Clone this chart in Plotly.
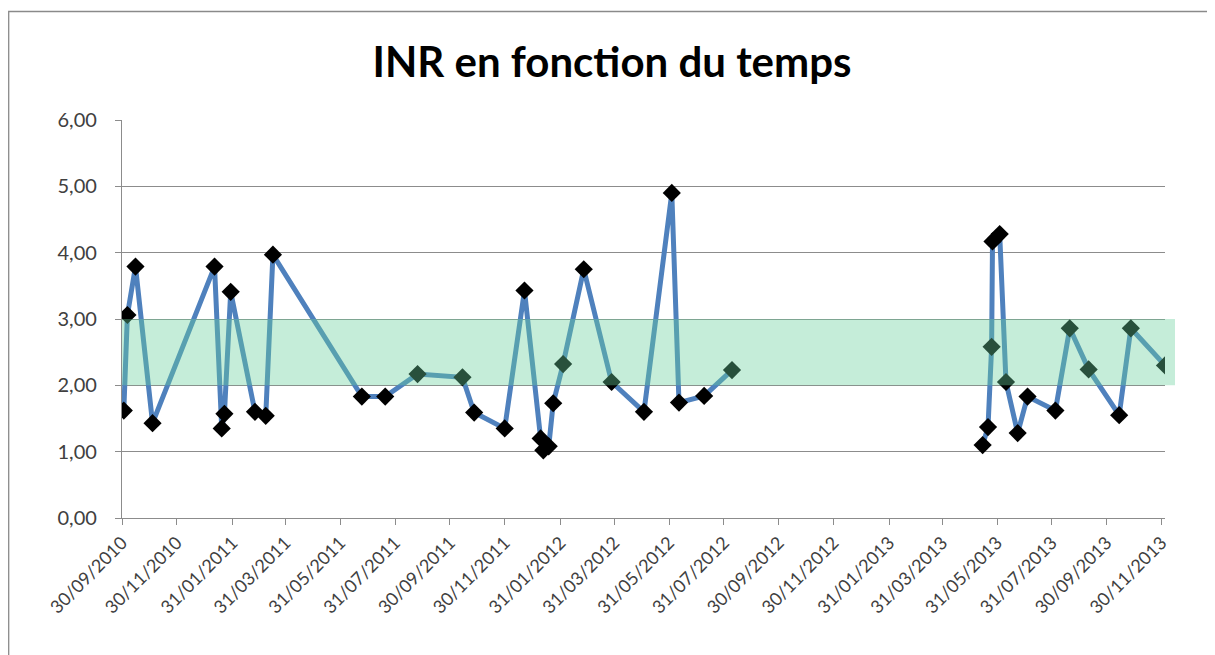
import plotly.graph_objects as go

# ---- data ----
# first period of measurements (2010-2012)
dates_a = [
    "2010-10-02", "2010-10-06", "2010-10-15", "2010-11-03",
    "2011-01-11", "2011-01-19", "2011-01-22", "2011-01-29",
    "2011-02-25", "2011-03-09", "2011-03-17", "2011-06-24",
    "2011-07-20", "2011-08-25", "2011-10-14", "2011-10-27",
    "2011-11-30", "2011-12-22", "2012-01-09", "2012-01-12",
    "2012-01-18", "2012-01-23", "2012-02-03", "2012-02-26",
    "2012-03-28", "2012-05-03", "2012-06-03", "2012-06-11",
    "2012-07-09", "2012-08-09",
]
inr_a = [
    1.62, 3.06, 3.79, 1.43,
    3.79, 1.35, 1.57, 3.41,
    1.60, 1.54, 3.97, 1.83,
    1.83, 2.17, 2.12, 1.59,
    1.35, 3.43, 1.20, 1.02,
    1.08, 1.73, 2.32, 3.75,
    2.05, 1.60, 4.90, 1.74,
    1.84, 2.23,
]
# second period of measurements (2013)
dates_b = [
    "2013-05-15", "2013-05-21", "2013-05-25", "2013-05-26",
    "2013-06-03", "2013-06-10", "2013-06-23", "2013-07-04",
    "2013-08-04", "2013-08-20", "2013-09-10", "2013-10-14",
    "2013-10-27", "2013-12-04",
]
inr_b = [
    1.10, 1.37, 2.58, 4.17,
    4.28, 2.05, 1.28, 1.83,
    1.62, 2.86, 2.24, 1.55,
    2.86, 2.30,
]
target_low = 2.0
target_high = 3.0

tick_dates = [
    "2010-09-30", "2010-11-30", "2011-01-31", "2011-03-31", "2011-05-31",
    "2011-07-31", "2011-09-30", "2011-11-30", "2012-01-31", "2012-03-31",
    "2012-05-31", "2012-07-31", "2012-09-30", "2012-11-30", "2013-01-31",
    "2013-03-31", "2013-05-31", "2013-07-31", "2013-09-30", "2013-11-30",
]
y_ticks = [0, 1, 2, 3, 4, 5, 6]
x_min = "2010-09-30"
x_max = "2013-12-04"

title = "INR en fonction du temps"

# ---- figure ----
W, H = 1215, 655
ml, mr, mt, mb = 114, 58, 112, 145   # page body adds an 8px offset
pw = W - ml - mr
ph = H - mt - mb

line_style = dict(color="#4F81BD", width=5)
marker_style = dict(symbol="diamond", size=14, color="black", line=dict(width=0))

fig = go.Figure()
for xs, ys in ((dates_a, inr_a), (dates_b, inr_b)):
    fig.add_trace(go.Scatter(
        x=xs, y=ys, mode="lines+markers",
        line=line_style, marker=marker_style, showlegend=False,
    ))

grid_col = "#8C8C8C"
font_fam = "Lato, 'Open Sans', sans-serif"

# target band (drawn above, semi-transparent like the reference)
fig.add_shape(type="rect", xref="paper", yref="y",
              x0=0, x1=(1175 - 122) / pw, y0=target_low, y1=target_high,
              fillcolor="rgb(104,208,156)", opacity=0.385,
              line=dict(width=0), layer="above")

# chart-area border
fig.add_shape(type="rect", xref="paper", yref="paper",
              x0=(0.7 - ml) / pw, x1=(1240 - ml) / pw,
              y0=-0.5, y1=1 + (mt - 3.5) / ph,
              line=dict(color="#8A8A8A", width=1.3),
              fillcolor="rgba(0,0,0,0)", layer="below")

fig.update_layout(
    width=W, height=H,
    margin=dict(l=ml, r=mr, t=mt, b=mb, autoexpand=False),
    paper_bgcolor="white", plot_bgcolor="white",
    separators=", ",
    title=dict(text="<b>" + title + "</b>", x=604 / W, xanchor="center",
               y=1 - 54 / H, yanchor="middle",
               font=dict(family=font_fam, size=42, color="black")),
    font=dict(family=font_fam, size=19, color="#404040"),
)
fig.update_xaxes(
    type="date", range=[x_min, x_max],
    tickvals=tick_dates, tickformat="%d/%m/%Y", tickangle=-45,
    showgrid=False, showline=True, linecolor=grid_col, linewidth=1.3,
    ticks="outside", ticklen=6, tickcolor=grid_col, tickwidth=1.3,
    tickfont=dict(size=18, color="#404040"),
    zeroline=False,
)
fig.update_yaxes(
    range=[0, 6], tickvals=y_ticks, tickformat=".2f",
    showgrid=True, gridcolor=grid_col, gridwidth=1.3,
    showline=True, linecolor=grid_col, linewidth=1.3,
    ticks="outside", ticklen=6, tickcolor=grid_col, tickwidth=1.3,
    tickfont=dict(size=20, color="#404040"),
    ticklabelstandoff=14,
    zeroline=False,
)

fig.write_html("out.html")
